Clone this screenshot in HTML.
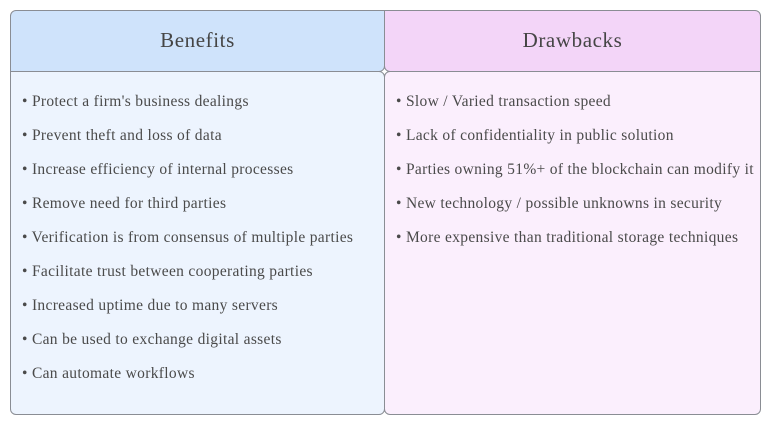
<!DOCTYPE html>
<html><head><style>
body{margin:0;width:779px;height:426px;background:#fff;font-family:"Liberation Serif",serif;color:#444;position:relative;overflow:hidden}
.b{position:absolute;box-sizing:border-box;border:1.3px solid #8a8d94}
.h{font-size:21px;letter-spacing:0.6px;text-align:center;line-height:59px;color:#454545}
.item{position:absolute;font-size:15.5px;letter-spacing:0.32px;white-space:nowrap;color:#4a4a4a}
</style></head><body>
<div class="b h" style="left:10px;top:10px;width:375px;height:62px;background:#cfe3fb;border-radius:6px 0 6px 0">Benefits</div>
<div class="b h" style="left:384px;top:10px;width:377px;height:62px;background:#f3d5f8;border-radius:0 6px 0 6px">Drawbacks</div>
<div class="b" style="left:10px;top:71px;width:375px;height:344px;background:#edf4fe;border-radius:0 6px 6px 6px"></div>
<div class="b" style="left:384px;top:71px;width:377px;height:344px;background:#fbeffd;border-radius:6px 0 6px 6px"></div>
<div class="item" style="left:22px;top:93px">• Protect a firm's business dealings</div>
<div class="item" style="left:22px;top:127px">• Prevent theft and loss of data</div>
<div class="item" style="left:22px;top:161px">• Increase efficiency of internal processes</div>
<div class="item" style="left:22px;top:195px">• Remove need for third parties</div>
<div class="item" style="left:22px;top:229px">• Verification is from consensus of multiple parties</div>
<div class="item" style="left:22px;top:263px">• Facilitate trust between cooperating parties</div>
<div class="item" style="left:22px;top:297px">• Increased uptime due to many servers</div>
<div class="item" style="left:22px;top:331px">• Can be used to exchange digital assets</div>
<div class="item" style="left:22px;top:365px">• Can automate workflows</div>
<div class="item" style="left:396px;top:93px">• Slow / Varied transaction speed</div>
<div class="item" style="left:396px;top:127px">• Lack of confidentiality in public solution</div>
<div class="item" style="left:396px;top:161px">• Parties owning 51%+ of the blockchain can modify it</div>
<div class="item" style="left:396px;top:195px">• New technology / possible unknowns in security</div>
<div class="item" style="left:396px;top:229px">• More expensive than traditional storage techniques</div>
</body></html>
